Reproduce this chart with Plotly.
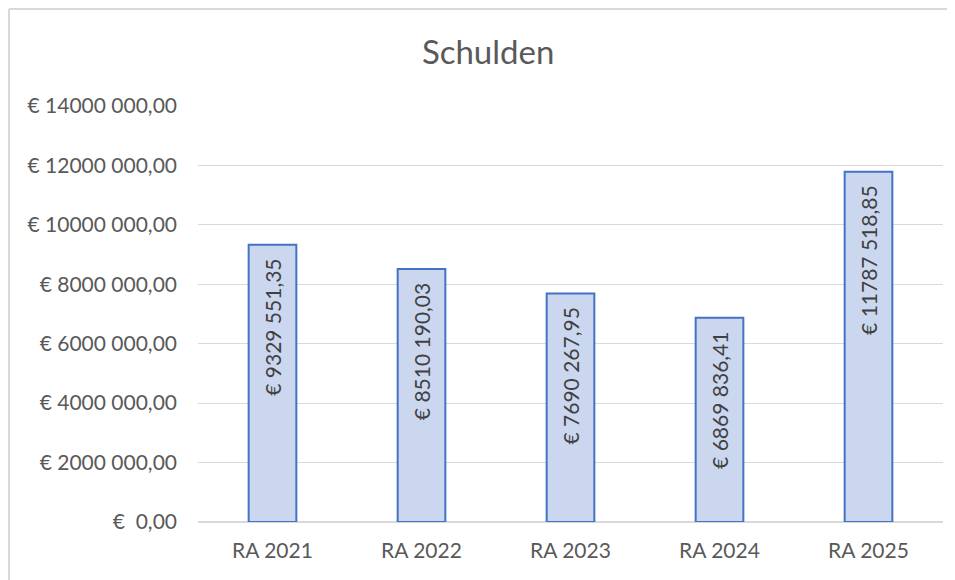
import plotly.graph_objects as go

categories = ["RA 2021", "RA 2022", "RA 2023", "RA 2024", "RA 2025"]
schulden = [9329551.35, 8510190.03, 7690267.95, 6869836.41, 11787518.85]
y_ticks = [0, 2000000, 4000000, 6000000, 8000000, 10000000, 12000000, 14000000]


def euro(v):
    # Excel-style look from the source: only the last thousands group is split
    whole, frac = f"{v:.2f}".split(".")
    if len(whole) > 3:
        whole = whole[:-3] + " " + whole[-3:]
    return f"€ {whole},{frac}"


FONT = "Lato"
GREY = "#595959"

fig = go.Figure()
fig.add_trace(
    go.Bar(
        x=categories,
        y=schulden,
        width=0.32,
        marker=dict(color="#cbd7ef", line=dict(color="#4472c4", width=2)),
        # trailing nbsp keeps the label off the bar top like in Excel
        text=[euro(v) + "\u00a0\u00a0" for v in schulden],
        textposition="inside",
        insidetextanchor="end",
        textangle=-90,
        textfont=dict(family=FONT, size=21, color="#404040"),
        hovertemplate="<b>%{x}</b><br>%{text}<extra></extra>",
    )
)

# page has an 8px body margin, so keep the figure inside the window
fig.update_layout(
    width=947,
    height=572,
    paper_bgcolor="white",
    plot_bgcolor="white",
    margin=dict(l=190, r=12, t=97, b=58),
    title=dict(
        text="Schulden",
        x=0.507,
        xanchor="center",
        y=0.923,
        yanchor="middle",
        font=dict(family=FONT, size=33, color=GREY),
    ),
    showlegend=False,
    font=dict(family=FONT, color=GREY),
    shapes=[
        dict(type="line", xref="paper", yref="paper",
             x0=-0.2537, x1=-0.2537, y0=-0.2, y1=1.23,
             line=dict(color="#d9d9d9", width=2)),
        dict(type="line", xref="paper", yref="paper",
             x0=-0.2537, x1=1.05, y0=1.23, y1=1.23,
             line=dict(color="#d9d9d9", width=2)),
    ],
)
fig.update_yaxes(
    range=[0, 14030000],
    tickvals=y_ticks,
    ticktext=[euro(v) if v else "€  0,00" for v in y_ticks],
    tickfont=dict(family=FONT, size=21, color=GREY),
    gridcolor="#d9d9d9",
    gridwidth=1,
    zeroline=True,
    zerolinecolor="#d9d9d9",
    ticks="",
    ticklabelstandoff=20,
)
fig.update_xaxes(
    tickfont=dict(family=FONT, size=21, color=GREY),
    showline=False,
    ticks="",
    ticklabelstandoff=14,
)

fig.write_html("out.html")
